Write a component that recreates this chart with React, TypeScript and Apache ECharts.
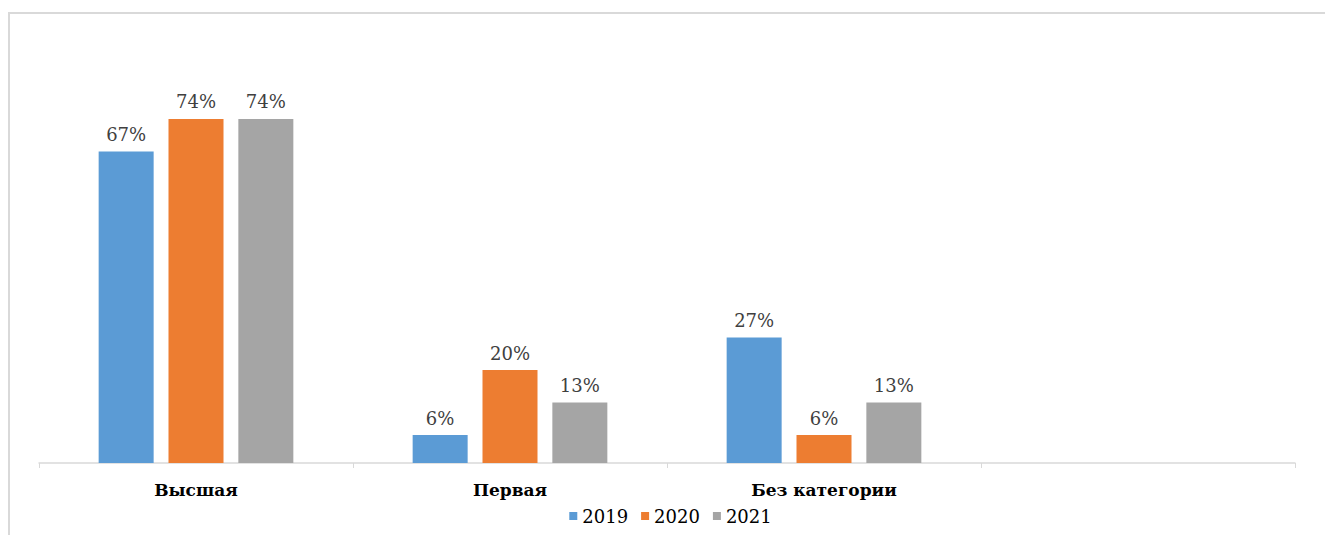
import React, { useEffect, useRef } from "react";
import * as echarts from "echarts";

const categories = ["Высшая", "Первая", "Без категории", ""];
const years = ["2019", "2020", "2021"];
const values2019 = [67, 6, 27, null];
const values2020 = [74, 20, 6, null];
const values2021 = [74, 13, 13, null];
const colors = ["#5b9bd5", "#ed7d31", "#a5a5a5"];

export default function App() {
  const ref = useRef<HTMLDivElement>(null);
  useEffect(() => {
    if (!ref.current) return;
    const chart = echarts.init(ref.current, null, { renderer: "svg" });
    const font = "DejaVu Serif";
    const seriesData = [values2019, values2020, values2021];
    chart.setOption({
      animation: false,
      backgroundColor: "#ffffff",
      textStyle: { fontFamily: font },
      graphic: [
        {
          type: "rect",
          shape: { x: 1, y: 5, width: 1400, height: 600 },
          style: { fill: "none", stroke: "#d9d9d9", lineWidth: 2 },
          silent: true,
        },
      ],
      legend: {
        data: years,
        bottom: 5,
        left: "center",
        itemWidth: 8,
        itemHeight: 8,
        itemGap: 13,
        icon: "rect",
        textStyle: { fontFamily: font, fontSize: 18, color: "#000000" },
      },
      grid: { left: 31, right: 38, top: 83, bottom: 72, containLabel: false },
      xAxis: {
        type: "category",
        data: categories,
        axisLine: { lineStyle: { color: "#d9d9d9", width: 1.5 } },
        axisTick: { show: true, length: 5, lineStyle: { color: "#d9d9d9" } },
        axisLabel: {
          fontFamily: font,
          fontSize: 17,
          fontWeight: "bold",
          color: "#000000",
          margin: 18,
        },
      },
      yAxis: {
        type: "value",
        min: 0,
        max: 80,
        show: false,
        splitLine: { show: false },
      },
      series: years.map((y, i) => ({
        name: y,
        type: "bar",
        data: seriesData[i],
        barWidth: 55,
        barGap: "27%",
        itemStyle: { color: colors[i] },
        label: {
          show: true,
          position: "top",
          distance: 8,
          formatter: (p: any) => (p.value == null ? "" : p.value + "%"),
          fontFamily: font,
          fontSize: 18,
          color: "#404040",
        },
      })),
    });
    return () => chart.dispose();
  }, []);
  return <div ref={ref} style={{ width: 1325, height: 527 }} />;
}
